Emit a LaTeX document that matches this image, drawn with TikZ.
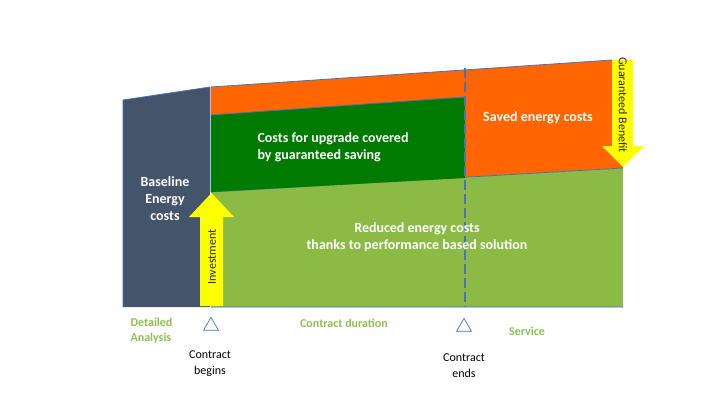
\documentclass[tikz,border=0pt]{standalone}
\usepackage{fontspec}
\setmainfont{Carlito}
\usetikzlibrary{shapes.geometric}
\definecolor{slate}{HTML}{44546A}
\definecolor{orng}{HTML}{FF6600}
\definecolor{dgreen}{HTML}{007A00}
\definecolor{lgreen}{HTML}{8BBB45}
\definecolor{lbl}{HTML}{8CC152}
\definecolor{edge}{HTML}{4472C4}
\definecolor{yel}{HTML}{FFFF00}
\begin{document}
\begin{tikzpicture}[x=1pt,y=-1pt,
  region/.style={draw=edge,line width=0.8pt},
  arrowshape/.style={fill=yel,draw=none},
  whitetxt/.style={text=white,font=\bfseries\fontsize{14}{17}\selectfont,align=center},
  greenlbl/.style={text=lbl,font=\bfseries\fontsize{12}{15}\selectfont},
  blacklbl/.style={text=black,font=\fontsize{12}{16}\selectfont,align=center},
  marker/.style={draw=edge,line width=0.7pt,fill=white,isosceles triangle,isosceles triangle apex angle=60,shape border rotate=90,inner sep=0pt,minimum height=13pt,minimum width=15pt}]
\useasboundingbox (0,0) rectangle (720,405);
% regions
\fill[orng] (211,87) -- (612,60) -- (623,168) -- (211,192) -- cycle;
\draw[region] (211,87) -- (612,60);
\fill[lgreen] (211,192) -- (623,168) -- (623,307) -- (211,307) -- cycle;
\draw[region] (211,192) -- (623,168) (211,307) -- (623,307);
\fill[dgreen] (211,115) -- (465,97) -- (465,178) -- (211,192) -- cycle;
\draw[region] (211,115) -- (465,97);
\fill[slate] (123,100) -- (210,87) -- (210,307) -- (123,307) -- cycle;
\draw[region] (123,307) -- (123,100) -- (210,87) -- (210,192);
\draw[edge,line width=1.4pt,dash pattern=on 10pt off 4pt] (465,68) -- (465,307);
% arrows
\fill[arrowshape] (200,306) -- (200,217) -- (189,217) -- (211.5,193) -- (234,217) -- (223,217) -- (223,306) -- cycle;
\fill[arrowshape] (612,60) -- (633,60) -- (633,146) -- (644,146) -- (623,167) -- (602,146) -- (612,146) -- cycle;
\node[rotate=90,font=\fontsize{12}{14}\selectfont,text=black!85] (inv) at (212,257) {Investment};
\node[rotate=-90,font=\fontsize{12}{14}\selectfont,text=black!85] (gb) at (623,105) {Guaranteed Benefit};
% texts
\node[whitetxt] (base) at (165,199) {Baseline\\Energy\\costs};
\node[whitetxt,align=left,anchor=west] (upg) at (254,147) {Costs for upgrade covered\\by guaranteed saving};
\node[whitetxt] (saved) at (538,118) {Saved energy costs};
\node[whitetxt] (red) at (417,237) {Reduced energy costs\\thanks to performance based solution};
% bottom
\node[greenlbl,align=left,anchor=west] (da) at (127,331) {Detailed\\Analysis};
\node[greenlbl] (cd) at (344,323) {Contract duration};
\node[greenlbl] (sv) at (527,331) {Service};
\node[marker] (m1) at (211,326) {};
\node[marker] (m2) at (464,327) {};
\node[blacklbl] (cb) at (210,364) {Contract\\begins};
\node[blacklbl] (ce) at (464,366) {Contract\\ends};
\end{tikzpicture}
\end{document}
